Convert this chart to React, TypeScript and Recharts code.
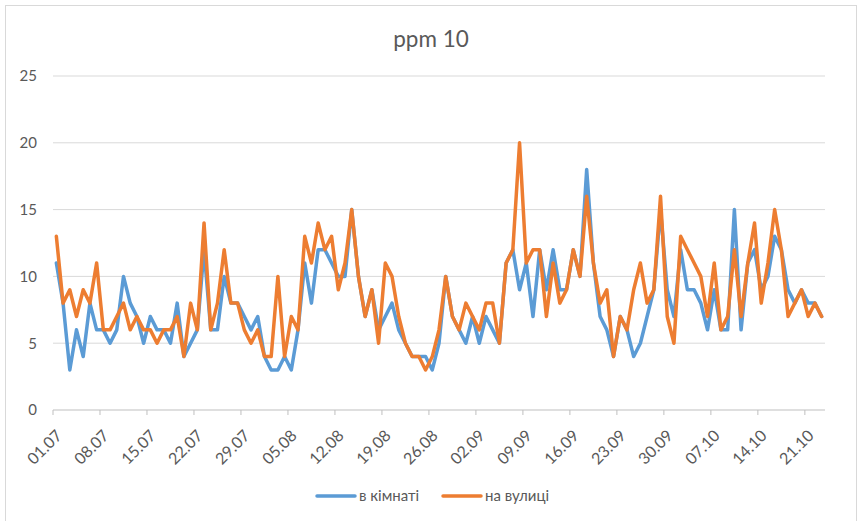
import { CartesianGrid, Line, LineChart, XAxis, YAxis } from 'recharts'

const dates = [
  '01.07', '02.07', '03.07', '04.07', '05.07', '06.07', '07.07',
  '08.07', '09.07', '10.07', '11.07', '12.07', '13.07', '14.07',
  '15.07', '16.07', '17.07', '18.07', '19.07', '20.07', '21.07',
  '22.07', '23.07', '24.07', '25.07', '26.07', '27.07', '28.07',
  '29.07', '30.07', '31.07', '01.08', '02.08', '03.08', '04.08',
  '05.08', '06.08', '07.08', '08.08', '09.08', '10.08', '11.08',
  '12.08', '13.08', '14.08', '15.08', '16.08', '17.08', '18.08',
  '19.08', '20.08', '21.08', '22.08', '23.08', '24.08', '25.08',
  '26.08', '27.08', '28.08', '29.08', '30.08', '31.08', '01.09',
  '02.09', '03.09', '04.09', '05.09', '06.09', '07.09', '08.09',
  '09.09', '10.09', '11.09', '12.09', '13.09', '14.09', '15.09',
  '16.09', '17.09', '18.09', '19.09', '20.09', '21.09', '22.09',
  '23.09', '24.09', '25.09', '26.09', '27.09', '28.09', '29.09',
  '30.09', '01.10', '02.10', '03.10', '04.10', '05.10', '06.10',
  '07.10', '08.10', '09.10', '10.10', '11.10', '12.10', '13.10',
  '14.10', '15.10', '16.10', '17.10', '18.10', '19.10', '20.10',
  '21.10', '22.10', '23.10',
]

// в кімнаті
const indoor = [
  11, 8, 3, 6, 4, 8, 6, 6, 5, 6, 10, 8, 7, 5, 7, 6, 6, 5, 8, 4, 5, 6, 12, 6, 6, 10, 8, 8, 7, 6,
  7, 4, 3, 3, 4, 3, 6, 11, 8, 12, 12, 11, 10, 10, 15, 10, 7, 9, 6, 7, 8, 6, 5, 4, 4, 4, 3, 5, 10, 7,
  6, 5, 7, 5, 7, 6, 5, 11, 12, 9, 11, 7, 12, 9, 12, 9, 9, 12, 10, 18, 11, 7, 6, 4, 7, 6, 4, 5, 7, 9,
  15, 9, 7, 12, 9, 9, 8, 6, 9, 6, 6, 15, 6, 11, 12, 9, 10, 13, 12, 9, 8, 9, 8, 8, 7,
]

// на вулиці
const outdoor = [
  13, 8, 9, 7, 9, 8, 11, 6, 6, 7, 8, 6, 7, 6, 6, 5, 6, 6, 7, 4, 8, 6, 14, 6, 8, 12, 8, 8, 6, 5,
  6, 4, 4, 10, 4, 7, 6, 13, 11, 14, 12, 13, 9, 11, 15, 10, 7, 9, 5, 11, 10, 7, 5, 4, 4, 3, 4, 6, 10, 7,
  6, 8, 7, 6, 8, 8, 5, 11, 12, 20, 11, 12, 12, 7, 11, 8, 9, 12, 10, 16, 11, 8, 9, 4, 7, 6, 9, 11, 8, 9,
  16, 7, 5, 13, 12, 11, 10, 7, 11, 6, 7, 12, 7, 11, 14, 8, 11, 15, 12, 7, 8, 9, 7, 8, 7,
]

const yTicks = [0, 5, 10, 15, 20, 25]

const series = [
  { key: 'indoor', name: 'в кімнаті', color: '#5B9BD5' },
  { key: 'outdoor', name: 'на вулиці', color: '#ED7D31' },
]

const data = dates.map((d, i) => ({ date: d, indoor: indoor[i], outdoor: outdoor[i] }))

const FONT = 'Lato, "Liberation Sans", sans-serif'
const TEXT = '#595959'
const PLOT_LEFT = 53
const PLOT_RIGHT = 825
const HALF_STEP = (PLOT_RIGHT - PLOT_LEFT) / dates.length / 2

function DateTick(props: any) {
  const { x, y, payload } = props
  return (
    <g transform={`translate(${x},${y})`}>
      <line x1={-HALF_STEP} y1={0} x2={-HALF_STEP} y2={5} stroke="#bfbfbf" />
      <text
        x={2}
        y={22}
        transform="rotate(-45 2 22)"
        textAnchor="end"
        dominantBaseline="central"
        fill={TEXT}
        fontSize={16}
        fontFamily={FONT}
      >
        {payload.value}
      </text>
    </g>
  )
}

export default function App() {
  return (
    <div style={{ position: 'absolute', left: 0, top: 0, width: 863, height: 521, background: '#fff', overflow: 'hidden' }}>
      <div
        style={{
          position: 'absolute',
          left: 5,
          top: 5,
          width: 852,
          height: 560,
          border: '1px solid #d9d9d9',
          boxSizing: 'border-box',
        }}
      />
      <LineChart
        width={863}
        height={521}
        data={data}
        margin={{ top: 76, right: 863 - PLOT_RIGHT, bottom: 51, left: 0 }}
        style={{ position: 'absolute', left: 0, top: 0 }}
      >
        <CartesianGrid stroke="#d9d9d9" vertical={false} horizontalValues={yTicks.slice(1)} />
        <XAxis
          dataKey="date"
          interval={6}
          height={60}
          padding={{ left: HALF_STEP, right: HALF_STEP }}
          stroke="#bfbfbf"
          tickLine={false}
          tickSize={0}
          tickMargin={0}
          tick={<DateTick />}
        />
        <YAxis
          width={PLOT_LEFT}
          domain={[0, 25]}
          ticks={yTicks}
          axisLine={false}
          tickLine={false}
          tickSize={0}
          tickMargin={16}
          tick={{ fill: TEXT, fontSize: 15, fontFamily: FONT }}
        />
        {series.map((s) => (
          <Line
            key={s.key}
            dataKey={s.key}
            name={s.name}
            stroke={s.color}
            strokeWidth={3.5}
            strokeLinejoin="round"
            strokeLinecap="round"
            dot={false}
            activeDot={false}
            isAnimationActive={false}
          />
        ))}
      </LineChart>
      <svg width={863} height={521} style={{ position: 'absolute', left: 0, top: 0, pointerEvents: 'none' }}>
        <text x={431} y={47} textAnchor="middle" fill={TEXT} fontSize={22.5} fontFamily={FONT}>
          ppm 10
        </text>
        {series.map((s, i) => {
          const x0 = i === 0 ? 317 : 443
          return (
            <g key={s.key}>
              <line x1={x0} y1={496} x2={x0 + 38} y2={496} stroke={s.color} strokeWidth={3.5} strokeLinecap="round" />
              <text x={x0 + 42} y={501} fill={TEXT} fontSize={15} fontFamily={FONT}>
                {s.name}
              </text>
            </g>
          )
        })}
      </svg>
    </div>
  )
}
